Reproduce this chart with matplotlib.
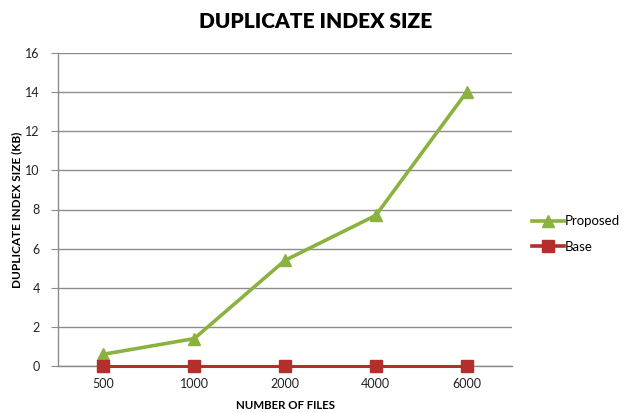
import matplotlib
matplotlib.use("Agg")
import matplotlib.pyplot as plt
from matplotlib.lines import Line2D

# Data
files = ["500", "1000", "2000", "4000", "6000"]
proposed = [0.6, 1.4, 5.4, 7.7, 14.0]
base = [0.0, 0.0, 0.0, 0.0, 0.0]
y_ticks = [0, 2, 4, 6, 8, 10, 12, 14, 16]

green = "#8BB23F"
red = "#B22F2C"
grid_col = "#8C8C8C"

plt.rcParams["font.family"] = ["Lato", "DejaVu Sans"]

fig = plt.figure(figsize=(6.31, 4.13), dpi=100)
ax = fig.add_axes([58 / 631, 1 - 366 / 413, (512 - 58) / 631, (366 - 53) / 413])

x = list(range(len(files)))
ax.plot(x, proposed, color=green, lw=2.6, marker="^", ms=8,
        markeredgecolor=green, label="Proposed", zorder=3, clip_on=False)
ax.plot(x, base, color=red, lw=2.2, marker="s", ms=8,
        markeredgecolor=red, label="Base", zorder=4, clip_on=False)

ax.set_xlim(-0.5, len(files) - 0.5)
ax.set_ylim(0, 16)
ax.set_yticks(y_ticks)
ax.set_xticks(x)
ax.set_xticklabels(files)
ax.yaxis.grid(True, color=grid_col, lw=1)
ax.set_axisbelow(True)

for side in ("top", "right"):
    ax.spines[side].set_visible(False)
ax.spines["left"].set_color(grid_col)
ax.spines["bottom"].set_color(grid_col)
ax.spines["left"].set_linewidth(1)
ax.spines["bottom"].set_linewidth(1)

ax.tick_params(axis="y", length=5, color=grid_col, labelsize=9,
               labelcolor="#222222", pad=8)
ax.tick_params(axis="x", length=0, labelsize=9, labelcolor="#222222", pad=9)

ax.set_xlabel("NUMBER OF FILES", fontsize=8.3, fontweight="bold", labelpad=7)
ax.set_ylabel("DUPLICATE INDEX SIZE (KB)", fontsize=8.5, fontweight="bold", labelpad=2)

fig.text(316 / 631, 1 - 21 / 413, "DUPLICATE INDEX SIZE", ha="center", va="center",
         fontsize=15, fontweight="heavy")

handles = [Line2D([], [], color=green, lw=2.6, marker="^", ms=8),
           Line2D([], [], color=red, lw=2.6, marker="s", ms=8)]
fig.legend(handles, ["Proposed", "Base"], loc="center left",
           bbox_to_anchor=(520 / 631, 1 - 234 / 413), frameon=False,
           fontsize=9.5, handlelength=2.4, handletextpad=0.1, labelspacing=1.0)

fig.savefig("out.png", dpi=100)
